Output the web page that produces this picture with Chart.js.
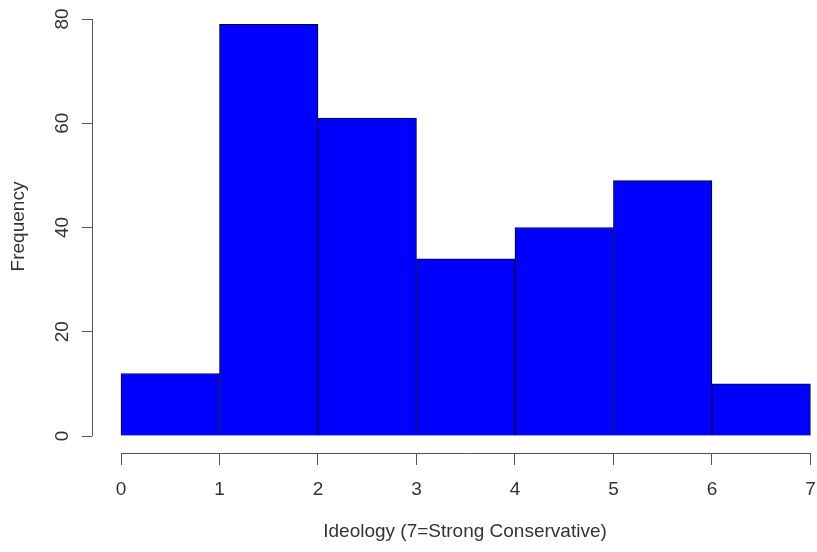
<!DOCTYPE html>
<html>
<head>
<meta charset="utf-8">
<script src="https://cdn.jsdelivr.net/npm/chart.js@4"></script>
<style>
  body { margin: 0; background: #fff; overflow: hidden; width: 817px; height: 552px; }
  canvas { display: block; }
</style>
</head>
<body>
<!-- plot region runs a little past the right edge of the window, as in the original R figure -->
<canvas id="histChart" width="838" height="552"></canvas>
<script>
// histogram bins (ideology score) and counts
const binEdges = [0, 1, 2, 3, 4, 5, 6, 7];
const frequency = [12, 79, 61, 34, 40, 49, 10];
const xTicks = [0, 1, 2, 3, 4, 5, 6, 7];
const yTicks = [0, 20, 40, 60, 80];

const textColor = '#333';
const axisColor = '#555';
const fontFamily = "'Liberation Sans', Arial, Helvetica, sans-serif";

// bars sit at bin centres, one unit wide
const barData = frequency.map((f, i) => ({ x: (binEdges[i] + binEdges[i + 1]) / 2, y: f }));

// R style axes: line only runs from first to last tick
const rAxisLines = {
    id: 'rAxisLines',
    afterDraw(chart) {
        const ctx = chart.ctx;
        const x = chart.scales.x;
        const y = chart.scales.y;
        const area = chart.chartArea;
        ctx.save();
        ctx.strokeStyle = axisColor;
        ctx.lineWidth = 1;
        ctx.beginPath();
        ctx.moveTo(x.getPixelForValue(xTicks[0]), area.bottom + 0.5);
        ctx.lineTo(x.getPixelForValue(xTicks[xTicks.length - 1]), area.bottom + 0.5);
        ctx.moveTo(area.left + 0.5, y.getPixelForValue(yTicks[0]));
        ctx.lineTo(area.left + 0.5, y.getPixelForValue(yTicks[yTicks.length - 1]));
        ctx.stroke();
        ctx.restore();
    }
};

const ctx = document.getElementById('histChart').getContext('2d');
const histChart = new Chart(ctx, {
    type: 'bar',
    data: {
        datasets: [{
            label: 'Frequency',
            data: barData,
            backgroundColor: '#0000ff',
            borderColor: '#00003a',
            borderWidth: 1,
            barPercentage: 1,
            categoryPercentage: 1
        }]
    },
    options: {
        responsive: false,
        animation: false,
        devicePixelRatio: 1,
        layout: { padding: 0 },
        plugins: {
            legend: { display: false },
            tooltip: { enabled: false }
        },
        scales: {
            x: {
                type: 'linear',
                offset: false,
                min: -0.2946,
                max: 7.28,
                afterBuildTicks: (scale) => { scale.ticks = xTicks.map(v => ({ value: v })); },
                afterFit: (scale) => {
                    scale.height = 99;
                    scale.paddingLeft = 0;
                    scale.paddingRight = 0;
                },
                grid: {
                    offset: false,
                    drawOnChartArea: false,
                    drawTicks: true,
                    tickLength: 12,
                    tickColor: axisColor
                },
                border: { display: false },
                ticks: {
                    color: textColor,
                    font: { family: fontFamily, size: 19 },
                    padding: 13,
                    maxRotation: 0,
                    autoSkip: false
                },
                title: {
                    display: true,
                    text: 'Ideology (7=Strong Conservative)',
                    color: textColor,
                    font: { family: fontFamily, size: 19 },
                    padding: { top: 0, bottom: 9 }
                }
            },
            y: {
                min: -3.26,
                max: 83.65,
                afterBuildTicks: (scale) => { scale.ticks = yTicks.map(v => ({ value: v })); },
                afterFit: (scale) => {
                    scale.width = 92;
                    scale.paddingTop = 0;
                    scale.paddingBottom = 0;
                },
                grid: {
                    drawOnChartArea: false,
                    drawTicks: true,
                    tickLength: 10,
                    tickColor: axisColor
                },
                border: { display: false },
                ticks: {
                    color: textColor,
                    font: { family: fontFamily, size: 19 },
                    padding: 9,
                    minRotation: 90,
                    maxRotation: 90,
                    crossAlign: 'center'
                },
                title: {
                    display: true,
                    text: 'Frequency',
                    color: textColor,
                    font: { family: fontFamily, size: 19 },
                    padding: { top: 7, bottom: 0 }
                }
            }
        }
    },
    plugins: [rAxisLines]
});
</script>
</body>
</html>
